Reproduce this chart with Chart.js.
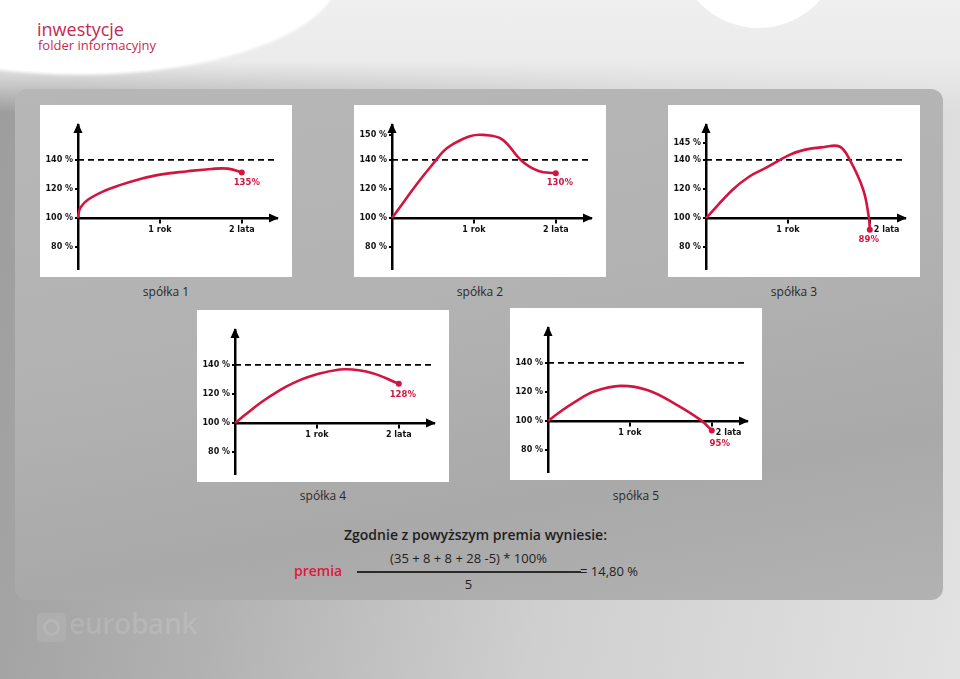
<!DOCTYPE html>
<html lang="pl">
<head>
<meta charset="utf-8">
<title>inwestycje - folder informacyjny</title>
<script src="https://cdn.jsdelivr.net/npm/chart.js@4.4.1/dist/chart.umd.min.js"></script>
<style>
  html, body { margin: 0; padding: 0; }
  body {
    width: 960px; height: 679px; position: relative; overflow: hidden;
    font-family: 'Open Sans', sans-serif;
    background: linear-gradient(100deg, #9c9c9c 0%, #b2b2b2 30%, #cfcfcf 60%, #e2e2e2 100%);
  }
  .top { position: absolute; left: 0; top: 0; width: 960px; height: 112px;
    background: linear-gradient(to bottom, #efefef 0, #ebebeb 55%, rgba(230,230,230,0) 100%); }
  .swoosh { position: absolute; left: -180px; top: -131px; width: 520px; height: 204px;
    border-radius: 50%; background: #fff; box-shadow: 0 2px 3px rgba(255,255,255,0.9); }
  .bubble { position: absolute; left: 677px; top: -135px; width: 163px; height: 163px;
    border-radius: 50%; background: #fff; }
  .title { position: absolute; left: 37px; top: 20px; font-size: 18px; line-height: 1; color: #c62a52; }
  .subtitle { position: absolute; left: 38px; top: 39px; font-size: 13px; line-height: 1; color: #c62a52; }
  .panel { position: absolute; left: 15px; top: 89px; width: 928px; height: 511px; border-radius: 12px;
    background: linear-gradient(170deg, #b7b7b7 0%, #b2b2b2 45%, #a9a9a9 75%, #b2b2b2 100%); }
  .box { position: absolute; width: 252px; height: 172px; background: #fff; }
  .box canvas { display: block; }
  .cap { position: absolute; width: 252px; text-align: center; font-size: 12px; line-height: 1; color: #2a2a2a; }
  .f { position: absolute; line-height: 1; color: #1e1e1e; white-space: nowrap; }
  .logo { position: absolute; left: 37px; top: 613px; width: 29px; height: 29px; border-radius: 5px;
    background: rgba(255,255,255,0.09); }
  .logo::after { content: ''; position: absolute; left: 6px; top: 6px; width: 11px; height: 11px;
    border: 3px solid rgba(255,255,255,0.11); border-radius: 50%; }
  .brand { position: absolute; left: 69px; top: 609px; font-size: 28px; font-weight: 600; line-height: 1;
    color: rgba(255,255,255,0.12); letter-spacing: -0.3px; }
</style>
</head>
<body>
<div class="top"></div>
<div class="swoosh"></div>
<div class="bubble"></div>
<div class="title">inwestycje</div>
<div class="subtitle">folder informacyjny</div>

<div class="panel"></div>

<div class="box" style="left:40px;top:105px"><canvas id="c1" width="252" height="172"></canvas></div>
<div class="box" style="left:354px;top:105px"><canvas id="c2" width="252" height="172"></canvas></div>
<div class="box" style="left:668px;top:105px"><canvas id="c3" width="252" height="172"></canvas></div>
<div class="box" style="left:197px;top:310px"><canvas id="c4" width="252" height="172"></canvas></div>
<div class="box" style="left:510px;top:308px"><canvas id="c5" width="252" height="172"></canvas></div>

<div class="cap" style="left:40px;top:286px">spółka 1</div>
<div class="cap" style="left:354px;top:286px">spółka 2</div>
<div class="cap" style="left:668px;top:286px">spółka 3</div>
<div class="cap" style="left:197px;top:490px">spółka 4</div>
<div class="cap" style="left:510px;top:490px">spółka 5</div>

<div class="f" style="left:344px;top:528px;font-size:14px;font-weight:600">Zgodnie z powyższym premia wyniesie:</div>
<div class="f" style="left:294px;top:564px;font-size:14px;font-weight:600;color:#e0173f">premia</div>
<div class="f" style="left:357px;top:552px;width:223px;text-align:center;font-size:13px">(35 + 8 + 8 + 28 -5) * 100%</div>
<div style="position:absolute;left:357px;top:571px;width:224px;height:1.5px;background:#2a2a2a"></div>
<div class="f" style="left:357px;top:578px;width:223px;text-align:center;font-size:13px">5</div>
<div class="f" style="left:580px;top:565px;font-size:13px">= 14,80 %</div>

<div class="logo"></div>
<div class="brand">eurobank</div>

<script>
// os X w latach, os Y w procentach
const xTicks = [1, 2];
const xTickLabels = ['1 rok', '2 lata'];
const refLevel = 140;   // przerywana linia 140 %

const years1 = [0, 0.01, 0.033, 0.12, 0.325, 0.53, 0.73, 1.0, 1.34, 1.63, 1.83, 2.0];
const values1 = [100, 104, 107.5, 112.6, 118.8, 123, 126.4, 129.9, 132.2, 133.8, 134, 131.4];
const yTicks1 = [80, 100, 120, 140];

const years2 = [0, 0.163, 0.325, 0.53, 0.63, 0.73, 0.95, 1.12, 1.34, 1.585, 1.79, 2.0];
const values2 = [100, 112.6, 125, 139.3, 143.5, 146, 149.5, 150, 148.3, 139.3, 132.4, 130.8];
const yTicks2 = [80, 100, 120, 140, 150];

const years3 = [0, 0.325, 0.53, 0.73, 1.02, 1.2, 1.43, 1.63, 1.756, 1.92, 1.99, 2.0];
const values3 = [100, 119.5, 128.6, 134.5, 141.5, 143, 143.8, 144, 140, 119.5, 100, 92];
const yTicks3 = [80, 100, 120, 140, 145];

const years4 = [0, 0.12, 0.325, 0.53, 0.73, 1.0, 1.34, 1.67, 2.0];
const values4 = [100, 105.5, 114.5, 122, 128, 133.5, 137, 134.5, 127];
const yTicks4 = [80, 100, 120, 140];

const years5 = [0, 0.12, 0.325, 0.57, 0.89, 1.22, 1.545, 1.87, 2.0];
const values5 = [100, 105.2, 113.1, 120.5, 124.2, 121.2, 112, 100.5, 93.6];
const yTicks5 = [80, 100, 120, 140];

const endLabels = ['135%', '130%', '89%', '128%', '95%'];

const RED = '#d2143f';
const X_MAX = 2.43;

Chart.defaults.font.family = 'DejaVu Sans';
Chart.defaults.font.size = 8;
Chart.defaults.font.weight = 'bold';
Chart.defaults.color = '#111';

// the brochure draws the band above 140 % taller than the rest,
// so the y scale stretches values above stretchFrom by stretchBy
const LinearScale = Chart.LinearScale || Chart.registry.getScale('linear');
class StretchScale extends LinearScale {
    toUnits(v) {
        const from = this.options.stretchFrom, k = this.options.stretchBy;
        return (v != null && v > from) ? from + (v - from) * k : v;
    }
    fromUnits(u) {
        const from = this.options.stretchFrom, k = this.options.stretchBy;
        return u > from ? from + (u - from) / k : u;
    }
    getPixelForValue(v) { return super.getPixelForValue(this.toUnits(v)); }
    getValueForPixel(p) { return this.fromUnits(super.getValueForPixel(p)); }
}
StretchScale.id = 'stretch';
StretchScale.defaults = LinearScale.defaults;
Chart.register(StretchScale);

const axisArrows = {
    id: 'axisArrows',
    afterDraw(chart) {
        const { ctx, chartArea: a, scales } = chart;
        const y0 = scales.y.getPixelForValue(100);
        ctx.save();
        ctx.fillStyle = '#000';
        ctx.beginPath();
        ctx.moveTo(a.left, a.top - 2);
        ctx.lineTo(a.left - 4.5, a.top + 8);
        ctx.lineTo(a.left + 4.5, a.top + 8);
        ctx.closePath();
        ctx.fill();
        ctx.beginPath();
        ctx.moveTo(a.right + 2, y0);
        ctx.lineTo(a.right - 8, y0 - 4.5);
        ctx.lineTo(a.right - 8, y0 + 4.5);
        ctx.closePath();
        ctx.fill();
        ctx.restore();
    }
};

function buildChart(canvasId, years, values, yTicks, endLabel, labelShift, stretchBy, shiftLastLabel) {
    const curve = years.map((x, i) => ({ x: x, y: values[i] }));
    const last = curve.length - 1;

    const endLabelPlugin = {
        id: 'endLabel',
        afterDatasetsDraw(chart) {
            const pt = chart.getDatasetMeta(0).data[last];
            const ctx = chart.ctx;
            ctx.save();
            ctx.font = 'bold 8.5px "DejaVu Sans"';
            ctx.fillStyle = RED;
            ctx.textAlign = 'center';
            ctx.textBaseline = 'middle';
            ctx.fillText(endLabel, pt.x + labelShift[0], pt.y + labelShift[1]);
            ctx.restore();
        }
    };

    const scales = {
        x: {
            type: 'linear', min: 0, max: X_MAX, position: { y: 100 },
            grid: { drawOnChartArea: false, drawTicks: true, tickLength: 4, color: '#000', lineWidth: 2 },
            border: { color: '#000', width: 2.5 },
            afterBuildTicks: s => { s.ticks = xTicks.map(v => ({ value: v })); },
            ticks: {
                padding: 3, maxRotation: 0, autoSkip: false,
                callback: v => (shiftLastLabel && v === 2) ? '' : xTickLabels[xTicks.indexOf(v)]
            }
        },
        y: {
            type: 'stretch', min: 65, max: 164, stretchFrom: refLevel, stretchBy: stretchBy,
            grid: { drawOnChartArea: false, drawTicks: true, tickLength: 3, color: '#000', lineWidth: 2 },
            border: { color: '#000', width: 2.5 },
            afterFit: s => { s.width = 38; },
            afterBuildTicks: s => { s.ticks = yTicks.map(v => ({ value: v })); },
            ticks: { padding: 2, autoSkip: false, callback: v => v + ' %' }
        }
    };
    if (shiftLastLabel) {
        // "2 lata" sits to the right of the tick when the end point drops below the axis
        scales.x2 = {
            axis: 'x', type: 'linear', min: 0, max: X_MAX, position: { y: 100 },
            grid: { display: false, drawTicks: false }, border: { display: false },
            afterBuildTicks: s => { s.ticks = [{ value: xTicks[1] }]; },
            ticks: { align: 'start', padding: 7, labelOffset: 4, maxRotation: 0, callback: () => xTickLabels[1] }
        };
    }

    new Chart(document.getElementById(canvasId), {
        type: 'line',
        data: {
            datasets: [
                {
                    data: curve,
                    borderColor: RED,
                    backgroundColor: RED,
                    borderWidth: 2.6,
                    tension: 0.4,
                    pointRadius: c => c.dataIndex === last ? 3 : 0,
                    pointBorderWidth: 0,
                    pointHoverRadius: 0,
                    clip: false
                },
                {
                    data: [{ x: 0, y: refLevel }, { x: X_MAX, y: refLevel }],
                    borderColor: '#000',
                    borderWidth: 1.8,
                    borderDash: [6, 4],
                    pointRadius: 0
                }
            ]
        },
        options: {
            responsive: false,
            animation: false,
            events: [],
            layout: { padding: { top: 20, right: 15, bottom: 8, left: 0 } },
            plugins: { legend: { display: false }, tooltip: { enabled: false } },
            scales: scales
        },
        plugins: [axisArrows, endLabelPlugin]
    });
}

buildChart('c1', years1, values1, yTicks1, endLabels[0], [5, 10], 1, false);
buildChart('c2', years2, values2, yTicks2, endLabels[1], [4, 10], 1.72, false);
buildChart('c3', years3, values3, yTicks3, endLabels[2], [-1, 10], 2.3, true);
buildChart('c4', years4, values4, yTicks4, endLabels[3], [4, 11], 1, false);
buildChart('c5', years5, values5, yTicks5, endLabels[4], [8, 13], 1, true);
</script>
</body>
</html>
